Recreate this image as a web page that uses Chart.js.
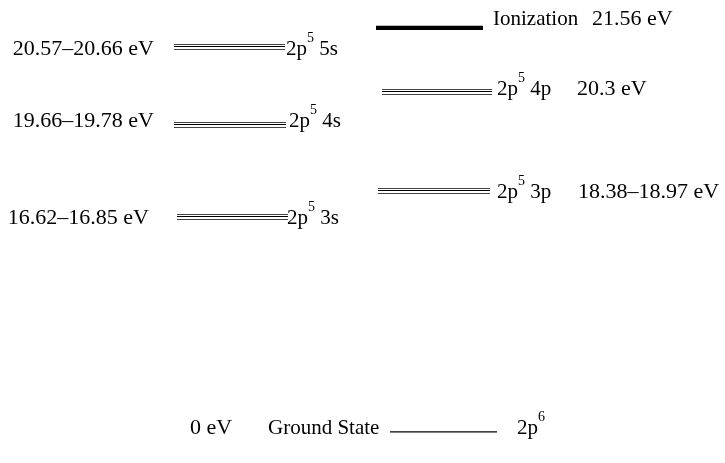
<!DOCTYPE html>
<html>
<head>
<meta charset="utf-8">
<script src="https://cdn.jsdelivr.net/npm/chart.js@4"></script>
<style>
  html, body { margin: 0; padding: 0; background: #fff; }
  #wrap { width: 725px; height: 463px; }
</style>
</head>
<body>
<div id="wrap"><canvas id="c" width="725" height="463"></canvas></div>
<script>
// ---- Data (schematic level heights; ground = 0, ionization = 100) ----
const levelNames   = ['Ionization', '2p5 5s', '2p5 4p', '2p5 4s', '2p5 3p', '2p5 3s', 'Ground State'];
const energyLabels = ['21.56 eV', '20.57\u201320.66 eV', '20.3 eV', '19.66\u201319.78 eV', '18.38\u201318.97 eV', '16.62\u201316.85 eV', '0 eV'];
const ionizationHeight = [100];
const s5Heights = [95.885, 95.390, 94.648];
const p4Heights = [84.747, 84.252, 83.510];
const s4Heights = [76.579, 76.084, 75.342];
const p3Heights = [60.243, 59.748, 59.005];
const s3Heights = [53.807, 53.312, 52.570];
const groundHeight = [0];

// ---- Layout / styles ----
const FONT = '"Liberation Serif", "Times New Roman", serif';
const NUM = '22px ', WORD = '21px ', SUP = '14px ';
const levels = [
  { h: ionizationHeight, x: [376, 483], w: 4.2, colors: ['#000'] ,
    texts: [ {t: [{s: levelNames[0]}], x: 493, dy: -3 }, {t: [{s: energyLabels[0], num:true}], x: 592, dy: -3 } ] },
  { h: s5Heights, x: [174, 285], w: 1, colors: ['#444', '#000', '#444'],
    texts: [ {t: [{s: energyLabels[1], num:true}], x: 154, align: 'right', dy: 8 },
             {t: [{s:'2p'}, {s:'5', sup:true}, {s:' 5s'}], x: 286, dy: 8 } ] },
  { h: p4Heights, x: [382, 492], w: 1, colors: ['#444', '#000', '#444'],
    texts: [ {t: [{s:'2p'}, {s:'5', sup:true}, {s:' 4p'}], x: 497, dy: 3 },
             {t: [{s: energyLabels[2], num:true}], x: 577, dy: 3 } ] },
  { h: s4Heights, x: [174, 286], w: 1, colors: ['#444', '#000', '#444'],
    texts: [ {t: [{s: energyLabels[3], num:true}], x: 154, align: 'right', dy: 2.5 },
             {t: [{s:'2p'}, {s:'5', sup:true}, {s:' 4s'}], x: 289, dy: 2.5 } ] },
  { h: p3Heights, x: [378, 490], w: 1, colors: ['#444', '#000', '#444'],
    texts: [ {t: [{s:'2p'}, {s:'5', sup:true}, {s:' 3p'}], x: 497, dy: 7.5 },
             {t: [{s: energyLabels[4], num:true}], x: 578, dy: 7.5 } ] },
  { h: s3Heights, x: [177, 288], w: 1, colors: ['#444', '#000', '#444'],
    texts: [ {t: [{s: energyLabels[5], num:true}], x: 149, align: 'right', dy: 7.5 },
             {t: [{s:'2p'}, {s:'5', sup:true}, {s:' 3s'}], x: 287, dy: 7.5 } ] },
  { h: groundHeight, x: [390, 497], w: 1.3, colors: ['#000'],
    texts: [ {t: [{s: energyLabels[6], num:true}], x: 190, dy: 2 }, {t: [{s: levelNames[6]}], x: 268, dy: 2 },
             {t: [{s:'2p'}, {s:'6', sup:true}], x: 517, dy: 2 } ] }
];

const datasets = [];
levels.forEach(lv => {
  lv.h.forEach((v, i) => {
    datasets.push({
      type: 'line',
      data: [{x: lv.x[0], y: v}, {x: lv.x[1], y: v}],
      borderColor: lv.colors[i % lv.colors.length],
      borderWidth: lv.w,
      pointRadius: 0,
      fill: false,
      tension: 0
    });
  });
});

function mid(arr) { return arr[Math.floor(arr.length / 2)]; }
function segFont(seg) { return (seg.sup ? SUP : (seg.num ? NUM : WORD)) + FONT; }

const labelPlugin = {
  id: 'levelLabels',
  afterDatasetsDraw(chart) {
    const ctx = chart.ctx, xs = chart.scales.x, ys = chart.scales.y;
    ctx.save();
    ctx.fillStyle = '#000';
    ctx.textBaseline = 'alphabetic';
    ctx.textAlign = 'left';
    levels.forEach(lv => {
      const yc = ys.getPixelForValue(mid(lv.h));
      lv.texts.forEach(tx => {
        const base = yc + tx.dy;
        let total = 0;
        tx.t.forEach(seg => {
          ctx.font = segFont(seg);
          total += ctx.measureText(seg.s).width;
        });
        let x = xs.getPixelForValue(tx.x);
        if (tx.align === 'right') x -= total;
        tx.t.forEach(seg => {
          ctx.font = segFont(seg);
          ctx.fillText(seg.s, x, seg.sup ? base - 13 : base);
          x += ctx.measureText(seg.s).width;
        });
      });
    });
    ctx.restore();
  }
};

new Chart(document.getElementById('c'), {
  type: 'line',
  data: { datasets },
  options: {
    responsive: false,
    animation: false,
    events: [],
    layout: { padding: 0 },
    plugins: { legend: { display: false }, tooltip: { enabled: false }, title: { display: false } },
    scales: {
      x: { type: 'linear', display: false, min: 0, max: 725 },
      y: { type: 'linear', display: false, min: -7.7, max: 106.9 }
    }
  },
  plugins: [labelPlugin]
});
</script>
</body>
</html>
